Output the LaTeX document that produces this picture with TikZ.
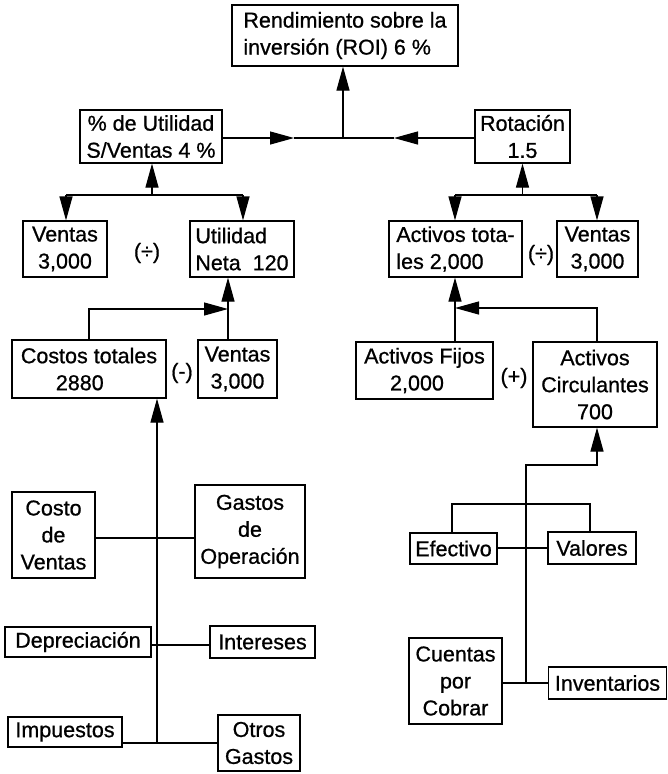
\documentclass[tikz,border=0pt]{standalone}
\usepackage{fontspec}
\setmainfont{Liberation Sans}[BoldFont={Liberation Sans}, BoldFeatures={FakeBold=0.8}]
\usetikzlibrary{arrows.meta}
\begin{document}
\begin{tikzpicture}[x=1pt,y=-1pt,
  box/.style={draw, line width=1.2pt, inner sep=0pt, align=center, font=\fontsize{21.5}{27}\selectfont\bfseries},
  lbl/.style={inner sep=0pt, font=\fontsize{21.5}{27}\selectfont\bfseries},
  ln/.style={line width=1.2pt},
  arr/.style={line width=1.2pt, -{Triangle[length=24pt,width=13pt]}}]
\useasboundingbox (0,0) rectangle (668,774);
\fill[white] (0,0) rectangle (668,774);

% ---------- top ----------
\node[box, align=left, minimum width=226pt, minimum height=61pt] (roi) at (345,35.5) {Rendimiento sobre la\\inversión (ROI) 6 \%};
\node[box, minimum width=142pt, minimum height=53pt] (util) at (151,136.5) {\% de Utilidad\\S/Ventas 4 \%};
\node[box, minimum width=95pt, minimum height=53pt] (rot) at (522.5,136.5) {Rotación\\1.5};
\coordinate (jTop) at (343,138);
\coordinate (tipL) at (294,138);
\coordinate (tipR) at (394,138);
\draw[arr] (jTop) -- (roi.south -| jTop);
\draw[arr] (util.east |- jTop) -- (tipL);
\draw[ln] (tipL) -- (jTop);
\draw[arr] (rot.west |- jTop) -- (tipR);
\draw[ln] (tipR) -- (jTop);

% ---------- left branch ----------
\node[box, minimum width=84pt, minimum height=56pt] (ventasA) at (65,249) {Ventas\\3,000};
\node[lbl] (divA) at (147,253) {(÷)};
\node[box, align=left, minimum width=104pt, minimum height=56pt] (uneta) at (242,249) {Utilidad\\Neta\ \ 120};
\coordinate (bl1) at (66,195);
\coordinate (bl2) at (243,195);
\coordinate (blm) at (152,195);
\draw[ln] (bl1) -- (bl2);
\draw[arr] (blm) -- (util.south -| blm);
\draw[arr] (bl1) -- (ventasA.north -| bl1);
\draw[arr] (bl2) -- (uneta.north -| bl2);

\node[box, align=left, minimum width=154pt, minimum height=58pt] (costos) at (89,369) {Costos totales\\\hspace*{35pt}2880};
\node[lbl] (minus) at (182,373) {(-)};
\node[box, minimum width=79pt, minimum height=58pt] (ventasB) at (237.5,369) {Ventas\\3,000};
\coordinate (jU) at (228,309);
\draw[arr] (ventasB.north -| jU) -- (uneta.south -| jU);
\draw[arr] (costos.north) |- (jU);

% ---------- left bottom ----------
\node[box, minimum width=83pt, minimum height=86pt] (cventas) at (53.5,535) {Costo\\de\\Ventas};
\node[box, minimum width=110pt, minimum height=93pt] (gastosop) at (250,531.5) {Gastos\\de\\Operación};
\node[box, minimum width=146pt, minimum height=30pt] (deprec) at (78,642) {Depreciación};
\node[box, minimum width=105pt, minimum height=32pt] (interes) at (262.5,642) {Intereses};
\node[box, minimum width=114pt, minimum height=30pt] (impuestos) at (65,732) {Impuestos};
\node[box, minimum width=82pt, minimum height=56pt] (otros) at (259,743) {Otros\\Gastos};
\coordinate (jC) at (157,538);
\coordinate (jD) at (157,645);
\coordinate (jI) at (157,743);
\draw[ln] (cventas.east |- jC) -- (gastosop.west |- jC);
\draw[ln] (deprec.east |- jD) -- (interes.west |- jD);
\draw[ln] (impuestos.east |- jI) -- (otros.west |- jI);
\draw[arr] (jI) -- (costos.south -| jI);

% ---------- right branch ----------
\node[box, align=left, minimum width=133pt, minimum height=56pt] (atot) at (455.5,249) {Activos tota-\\les 2,000};
\node[lbl] (divB) at (541,255) {(÷)};
\node[box, minimum width=81pt, minimum height=56pt] (ventasC) at (597.5,249) {Ventas\\3,000};
\coordinate (br1) at (455,195);
\coordinate (br2) at (597,195);
\coordinate (brm) at (522.5,195);
\draw[ln] (br1) -- (br2);
\draw[arr] (brm) -- (rot.south -| brm);
\draw[arr] (br1) -- (atot.north -| br1);
\draw[arr] (br2) -- (ventasC.north -| br2);

\node[box, minimum width=137pt, minimum height=57pt] (afijos) at (424.5,370.5) {Activos Fijos\\2,000\hspace*{15pt}};
\node[lbl] (plus) at (514,378) {(+)};
\node[box, minimum width=124pt, minimum height=85pt] (acirc) at (595,384.5) {Activos\\Circulantes\\700};
\coordinate (jF) at (455,308);
\coordinate (jF2) at (597,308);
\draw[arr] (afijos.north -| jF) -- (atot.south -| jF);
\draw[arr] (acirc.north -| jF2) -- (jF2) -- (jF);

% ---------- right bottom ----------
\node[box, minimum width=87pt, minimum height=31pt] (efectivo) at (453.5,548.5) {Efectivo};
\node[box, minimum width=88pt, minimum height=32pt] (valores) at (592,548) {Valores};
\node[box, minimum width=93pt, minimum height=86pt] (cuentas) at (455.5,681) {Cuentas\\por\\Cobrar};
\node[box, minimum width=118pt, minimum height=32pt] (invent) at (607.5,683) {Inventarios};
\coordinate (jR1) at (597,465);
\coordinate (jR2) at (526,465);
\coordinate (jR3) at (526,683);
\coordinate (jB1) at (452,504);
\coordinate (jB2) at (590,504);
\coordinate (jE) at (526,548);
\draw[arr] (jR3) -- (jR2) -- (jR1) -- (acirc.south -| jR1);
\draw[ln] (efectivo.north -| jB1) -- (jB1) -- (jB2) -- (valores.north -| jB2);
\draw[ln] (efectivo.east |- jE) -- (valores.west |- jE);
\draw[ln] (cuentas.east |- jR3) -- (invent.west |- jR3);
\end{tikzpicture}
\end{document}
